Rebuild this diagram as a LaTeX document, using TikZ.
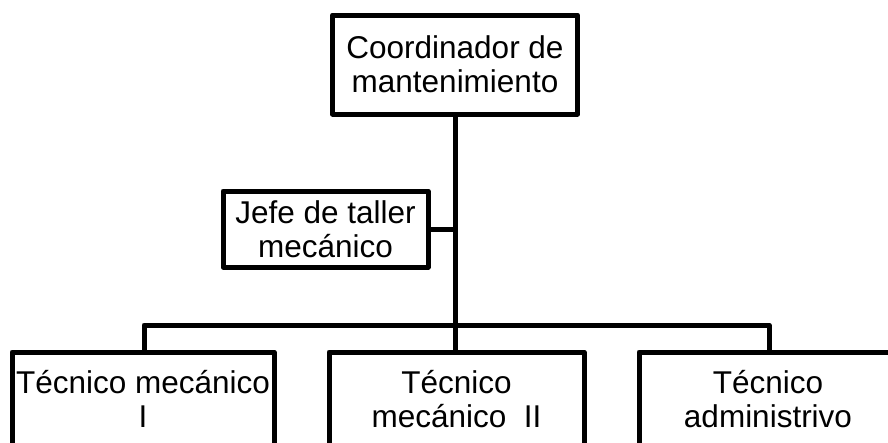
\documentclass[tikz,border=0pt]{standalone}
\usepackage{fontspec}
\setmainfont{Liberation Sans}
\newcommand{\ls}{\rule[-6pt]{0pt}{34pt}}
\tikzset{
  box/.style={draw=black, line width=5pt, line join=round, fill=white,
    rectangle, inner sep=0pt, align=center,
    font=\fontsize{31.5}{34}\selectfont},
  conn/.style={draw=black, line width=5pt, line join=round}
}
\begin{document}
\begin{tikzpicture}[x=1pt, y=-1pt]
\clip (0,0) rectangle (888,442);
\fill[white] (0,0) rectangle (888,442);
\node[box, minimum width=245pt, minimum height=99pt] (top) at (455,64.5)
  {\ls Coordinador de\\ \ls mantenimiento};
\node[box, minimum width=205pt, minimum height=76pt] (jefe) at (325.5,229)
  {\ls Jefe de taller\\ \ls mecánico};
\node[box, minimum width=262pt, minimum height=94pt] (bl) at (143,399)
  {\ls Técnico mecánico\\ \ls I};
\node[box, minimum width=255pt, minimum height=94pt] (bm) at (456.5,399)
  {\ls Técnico\\ \ls mecánico~~II};
\node[box, minimum width=258pt, minimum height=94pt] (br) at (768,399)
  {\ls Técnico\\ \ls administrivo};
\coordinate (busL) at (144,325);
\coordinate (busR) at (769,325);
\draw[conn] (top.south) -- (top.south |- bm.north);
\draw[conn] (jefe.east) -- (jefe.east -| top.south);
\draw[conn] (busL |- bl.north) -- (busL) -- (busR) -- (busR |- br.north);
\end{tikzpicture}
\end{document}
